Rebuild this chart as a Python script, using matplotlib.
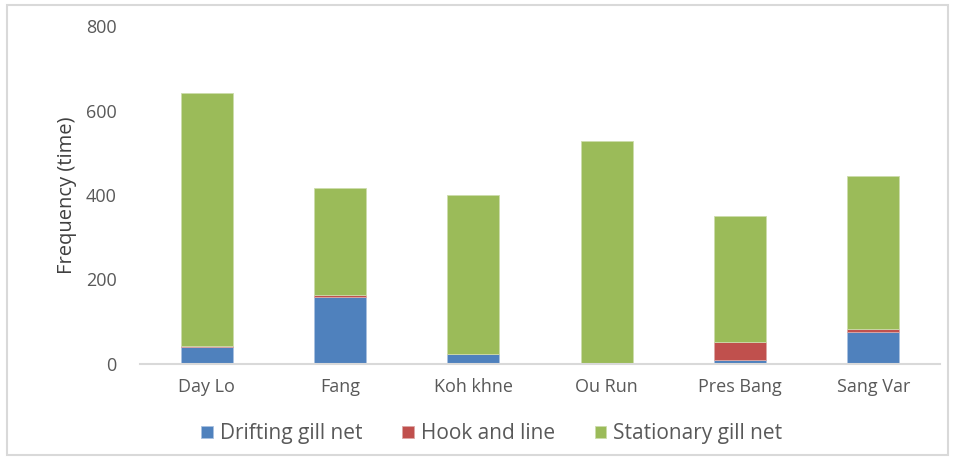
import matplotlib
matplotlib.use("Agg")
import matplotlib.pyplot as plt
from matplotlib.patches import Rectangle
import numpy as np

plt.rcParams['font.family'] = ['Open Sans', 'DejaVu Sans']

sites = ["Day Lo", "Fang", "Koh khne", "Ou Run", "Pres Bang", "Sang Var"]
drifting = [40, 159, 24, 0, 9, 76]
hook = [3, 4, 0, 0, 44, 7]
stationary = [598, 254, 376, 528, 297, 363]
yticks = [0, 200, 400, 600, 800]

colors = {"Drifting gill net": "#4F81BD",
          "Hook and line": "#C0504D",
          "Stationary gill net": "#9BBB59"}

fig = plt.figure(figsize=(9.56, 4.59), dpi=100)
ax = fig.add_axes([140 / 956, 1 - 364 / 459, 800 / 956, 338 / 459])

x = np.arange(len(sites))
w = 0.39
d = np.array(drifting)
h = np.array(hook)
s = np.array(stationary)
ax.bar(x, d, w, color=colors["Drifting gill net"], label="Drifting gill net",
       edgecolor="#a9c1e0", linewidth=0.6)
ax.bar(x, h, w, bottom=d, color=colors["Hook and line"], label="Hook and line",
       edgecolor="#dca8a6", linewidth=0.6)
ax.bar(x, s, w, bottom=d + h, color=colors["Stationary gill net"],
       label="Stationary gill net", edgecolor="#cddcac", linewidth=0.6)

ax.set_xlim(-0.5, len(sites) - 0.5)
ax.set_ylim(0, 800)
ax.set_yticks(yticks)
ax.set_xticks(x)
ax.set_xticklabels(sites)
ax.tick_params(axis="both", length=0, labelsize=13, colors="#595959")
ax.tick_params(axis="x", pad=10)
ax.tick_params(axis="y", pad=17)
for side in ["top", "right", "left"]:
    ax.spines[side].set_visible(False)
ax.spines["bottom"].set_color("#d9d9d9")
ax.spines["bottom"].set_linewidth(1.5)
ax.set_ylabel("Frequency (time)", fontsize=14.5, color="#404040", labelpad=6)

ax.legend(loc="upper center", bbox_to_anchor=(0.44, -0.12), ncol=3,
          frameon=False, fontsize=15, handlelength=0.55, handleheight=0.55,
          columnspacing=1.9, handletextpad=0.35, labelcolor="#595959")

fig.patches.append(Rectangle((7 / 956, 4 / 459), 941 / 956, 450 / 459,
                             transform=fig.transFigure, fill=False,
                             edgecolor="#d9d9d9", linewidth=1.5))

fig.savefig("out.png", dpi=100)
